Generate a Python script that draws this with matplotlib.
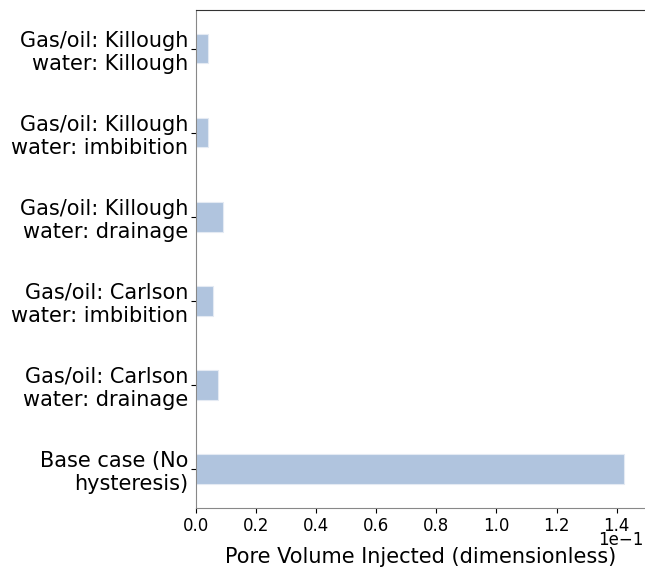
import matplotlib
matplotlib.use("Agg")
import matplotlib.pyplot as plt

categories = [
    "Base case (No\nhysteresis)",
    "Gas/oil: Carlson\nwater: drainage",
    "Gas/oil: Carlson\nwater: imbibition",
    "Gas/oil: Killough\nwater: drainage",
    "Gas/oil: Killough\nwater: imbibition",
    "Gas/oil: Killough\nwater: Killough",
]
values = [0.1424, 0.0073, 0.0058, 0.0090, 0.0041, 0.0041]
offset_label = "1e\u22121"

fig = plt.figure(figsize=(6.45, 5.72), dpi=100)
ax = fig.add_axes([196/645, (572-507.7)/572, (645.5-196)/645, (507.7-10)/572])
ax.barh(range(len(categories)), values, height=0.35, color="#B0C4DE",
        edgecolor="#E4EAF3", linewidth=0.8)
ax.set_yticks(range(len(categories)))
ax.set_yticklabels(categories, fontsize=15)
ax.tick_params(axis="y", pad=2)
ax.set_ylim(-0.46, 5.46)
ax.set_xlim(0, 0.1496)
ax.set_xticks([0, 0.02, 0.04, 0.06, 0.08, 0.10, 0.12, 0.14])
ax.ticklabel_format(axis="x", style="sci", scilimits=(0, 0))
ax.xaxis.get_offset_text().set_visible(False)
fig.text(644/645, 1 - 540/572, offset_label, fontsize=12, ha="right", va="center")
ax.tick_params(axis="x", labelsize=12)
ax.set_xlabel("Pore Volume Injected (dimensionless)", fontsize=15, labelpad=8)
ax.spines["left"].set_color("#888888")
ax.spines["bottom"].set_color("#888888")
ax.spines["top"].set_color("#333333")
ax.spines["right"].set_visible(False)
fig.savefig("out.png", dpi=100)
